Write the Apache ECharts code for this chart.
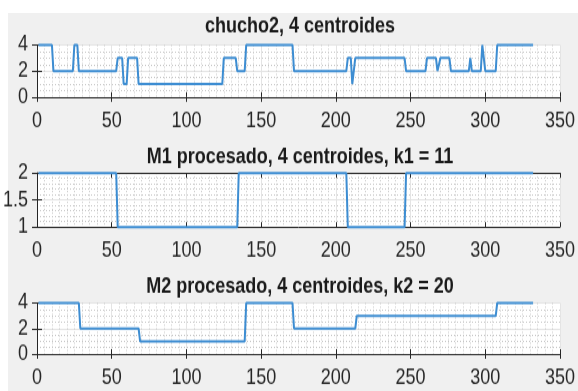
<!DOCTYPE html>
<html>
<head>
<meta charset="utf-8">
<script src="https://cdn.jsdelivr.net/npm/echarts@6/dist/echarts.min.js"></script>
<style>
  html, body { margin: 0; padding: 0; background: #ffffff; overflow: hidden; }
  #frame { position: absolute; left: 8px; top: 13px; width: 570px; height: 378px; background: #f0f0f0; }
  /* the figure is drawn in a shorter box and stretched vertically (tall, narrow lettering) */
  #chart { position: absolute; left: 0; top: 0; width: 578px; transform-origin: 0 0; }
</style>
</head>
<body>
<div id="frame"></div>
<div id="chart"></div>
<script>
// Cluster label per sample, stored as runs: [firstSample, lastSample, cluster]
const chuchoRuns = [
  [1, 10, 4], [11, 24, 2], [25, 27, 4], [28, 53, 2], [54, 57, 3], [58, 60, 1],
  [61, 67, 3], [68, 124, 1], [125, 133, 3], [134, 139, 2], [140, 171, 4],
  [172, 207, 2], [208, 210, 3], [211, 212, 1], [213, 246, 3], [247, 260, 2],
  [261, 267, 3], [268, 269, 2], [270, 276, 3], [277, 289, 2], [290, 290, 3],
  [291, 297, 2], [298, 299, 4], [300, 307, 2], [308, 332, 4]
];
const m1Runs = [
  [1, 53, 2], [54, 134, 1], [135, 207, 2], [208, 246, 1], [247, 332, 2]
];
const m2Runs = [
  [1, 28, 4], [29, 68, 2], [69, 139, 1], [140, 171, 4], [172, 213, 2],
  [214, 307, 3], [308, 332, 4]
];

const titles = [
  'chucho2, 4 centroides',
  'M1 procesado, 4 centroides, k1 = 11',
  'M2 procesado, 4 centroides, k2 = 20'
];
const xTicks = [0, 50, 100, 150, 200, 250, 300, 350];
const yRanges = [
  { min: 0, max: 4, step: 2, minor: 4 },
  { min: 1, max: 2, step: 0.5, minor: 5 },
  { min: 0, max: 4, step: 2, minor: 4 }
];

// Expand each run into its end points; the line joins consecutive samples.
function runsToPoints(runs) {
  const pts = [];
  runs.forEach(([a, b, v]) => {
    pts.push([a, v]);
    if (b !== a) pts.push([b, v]);
  });
  return pts;
}
const seriesData = [runsToPoints(chuchoRuns), runsToPoints(m1Runs), runsToPoints(m2Runs)];

// vertical stretch of the drawing; page positions below are divided by it
const SY = 1.2;
const el = document.getElementById('chart');
el.style.height = (391 / SY) + 'px';
el.style.transform = 'scaleY(' + SY + ')';
const vy = px => px / SY;

const FONT = "'Liberation Sans', Arial, Helvetica, sans-serif";
const INK = '#262626';
const gridBoxes = [
  { top: 45, bottom: 97, titleBase: 33 },
  { top: 173, bottom: 227, titleBase: 163 },
  { top: 303, bottom: 354, titleBase: 293 }
];

const grid = [], xAxis = [], yAxis = [], series = [], title = [];
gridBoxes.forEach((g, i) => {
  grid.push({
    left: 37, width: 527, top: vy(g.top), height: vy(g.bottom - g.top),
    show: true, backgroundColor: '#ffffff', borderWidth: 0
  });
  title.push({
    text: titles[i], left: 300, top: vy(g.titleBase) - 14, textAlign: 'center', padding: 0,
    textStyle: { fontFamily: FONT, fontSize: 18, fontWeight: 'bold', color: '#1a1a1a' }
  });
  const xCommon = {
    type: 'value', gridIndex: i, min: xTicks[0], max: xTicks[xTicks.length - 1],
    interval: xTicks[1] - xTicks[0],
    axisLine: { show: true, lineStyle: { color: INK, width: 1 } },
    axisTick: { show: true, inside: true, length: 4, lineStyle: { color: INK } }
  };
  xAxis.push(Object.assign({}, xCommon, {
    position: 'bottom',
    axisLabel: { show: true, margin: 11, fontFamily: FONT, fontSize: 18, color: INK },
    splitLine: { show: true, lineStyle: { color: '#e4e4e4', width: 1 } },
    minorTick: { show: false, splitNumber: 10 },
    minorSplitLine: { show: true, lineStyle: { color: '#c6c6c6', width: 1, type: [1, 2] } }
  }));
  xAxis.push(Object.assign({}, xCommon, {
    position: 'top', axisLabel: { show: false }, splitLine: { show: false }
  }));
  const r = yRanges[i];
  const yCommon = {
    type: 'value', gridIndex: i, min: r.min, max: r.max, interval: r.step,
    axisLine: { show: true, lineStyle: { color: INK, width: 1 } },
    axisTick: { show: true, inside: true, length: 5, lineStyle: { color: INK } }
  };
  yAxis.push(Object.assign({}, yCommon, {
    position: 'left',
    axisLabel: { show: true, margin: 9, fontFamily: FONT, fontSize: 18, color: INK },
    splitLine: { show: true, lineStyle: { color: '#e4e4e4', width: 1 } },
    minorTick: { show: false, splitNumber: r.minor },
    minorSplitLine: { show: true, lineStyle: { color: '#c6c6c6', width: 1, type: [1, 2] } }
  }));
  yAxis.push(Object.assign({}, yCommon, {
    position: 'right', axisLabel: { show: false }, splitLine: { show: false }
  }));
  series.push({
    type: 'line', xAxisIndex: i * 2, yAxisIndex: i * 2,
    data: seriesData[i], showSymbol: false, clip: false, z: 5,
    lineStyle: { color: '#3d8dd2', width: 2 }, animation: false
  });
});

const chart = echarts.init(el, null, { renderer: 'canvas' });
chart.setOption({
  backgroundColor: 'transparent',
  animation: false,
  title, grid, xAxis, yAxis, series
});
</script>
</body>
</html>
